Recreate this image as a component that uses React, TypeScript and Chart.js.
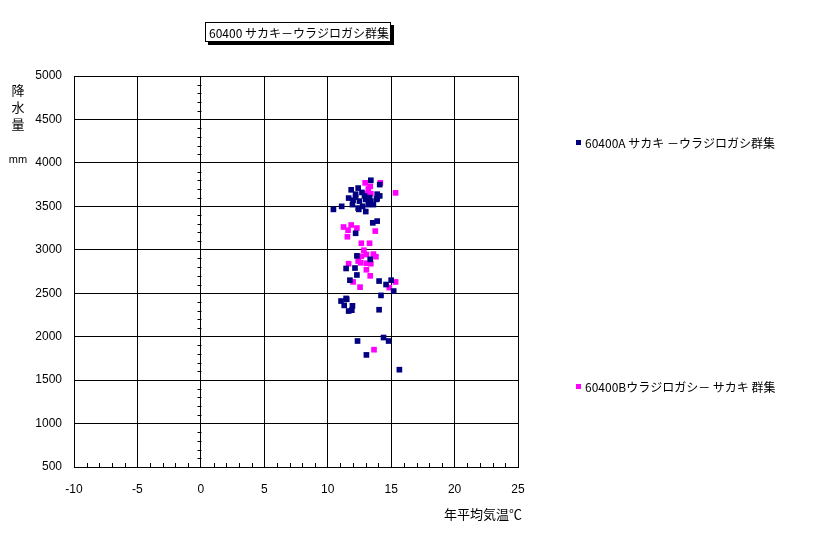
import React, { useEffect, useRef } from "react";
import { Chart, registerables } from "chart.js";

Chart.register(...registerables);

const chartTitle = "60400 サカキ－ウラジロガシ群集";
const seriesAName = "60400A サカキ －ウラジロガシ群集";
const seriesBName = "60400Bウラジロガシ－ サカキ 群集";
const xAxisTitle = "年平均気温℃";
const yAxisTitleChars = ["降", "水", "量"];
const yAxisUnit = "mm";

const xMin = -10;
const xMax = 25;
const xStep = 5;
const yMin = 500;
const yMax = 5000;
const yStep = 500;

const seriesATemp = [
  13.4, 14.1, 11.85, 12.4, 13.9, 13.9, 11.65, 12.2, 12.5, 13.0, 13.4, 11.95, 11.1, 12.4, 12.75, 13.0, 13.85, 13.6,
  10.45, 12.45, 12.2, 12.9, 13.3, 12.7, 14.1, 12.0, 13.2,
  13.55, 13.9, 12.2, 12.3, 13.35, 11.45, 12.15, 12.3, 11.75, 14.05, 14.6, 15.0, 15.2, 14.2, 11.45, 11.05, 11.5, 11.3,
  11.95, 11.65, 11.9, 14.05,
  14.4, 14.8, 12.35, 13.05, 15.65,
];
const seriesARain = [
  3800, 3750, 3690, 3710, 3640, 3590, 3595, 3605, 3560, 3580, 3560, 3520, 3500, 3480, 3500, 3440, 3580, 3520,
  3465, 3465, 3640, 3620, 3600, 3660, 3620, 3570, 3520,
  3310, 3330, 3190, 2930, 2890, 2785, 2790, 2710, 2650, 2640, 2600, 2650, 2525, 2475, 2440, 2410, 2430, 2360,
  2355, 2295, 2305, 2310,
  1990, 1950, 1950, 1790, 1620,
];

const seriesBTemp = [
  12.95, 13.35, 14.15, 13.0, 13.4, 15.35, 11.25, 11.85, 11.6, 12.3, 11.55, 13.75, 12.65, 13.3, 12.85, 13.05, 12.65,
  13.6, 13.8, 12.4, 11.65, 13.05, 13.4, 13.05, 13.35, 12.0, 12.55, 15.35, 14.85, 13.65, 13.2, 12.6,
];
const seriesBRain = [
  3770, 3730, 3770, 3645, 3645, 3655, 3262, 3285, 3225, 3250, 3150, 3215, 3075, 3075, 2995, 2945, 2925,
  2950, 2920, 2870, 2840, 2845, 2840, 2770, 2700, 2630, 2570, 2630, 2565, 1850, 3700, 2850,
];

const colorA = "#000080";
const colorB = "#FF00FF";

const tickFont = "'Liberation Sans', 'DejaVu Sans', sans-serif";
const jpFont = "'Noto Sans CJK JP', 'Noto Sans', sans-serif";

const decorations = {
  id: "decorations",
  afterDraw(chart: any) {
    const ctx = chart.ctx as CanvasRenderingContext2D;
    const xs = chart.scales.x;
    const ys = chart.scales.y;
    const area = chart.chartArea;
    ctx.save();
    ctx.strokeStyle = "#000";
    ctx.lineWidth = 1;
    ctx.beginPath();
    for (let v = xMin + 1; v < xMax; v += 1) {
      if (v % xStep === 0) continue;
      const px = Math.round(xs.getPixelForValue(v)) + 0.5;
      ctx.moveTo(px, area.bottom);
      ctx.lineTo(px, area.bottom - 4);
    }
    const x0 = Math.round(xs.getPixelForValue(0)) + 0.5;
    for (let v = yMin + 100; v < yMax; v += 100) {
      if (v % yStep === 0) continue;
      const py = Math.round(ys.getPixelForValue(v)) + 0.5;
      ctx.moveTo(x0 - 4, py);
      ctx.lineTo(x0, py);
    }
    ctx.stroke();

    const bx = 205, by = 22, bw = 186, bh = 20;
    ctx.fillStyle = "#000";
    ctx.fillRect(bx + 3, by + 3, bw, bh);
    ctx.fillStyle = "#fff";
    ctx.fillRect(bx, by, bw, bh);
    ctx.strokeStyle = "#000";
    ctx.lineWidth = 1;
    ctx.strokeRect(bx + 0.5, by + 0.5, bw - 1, bh - 1);
    ctx.fillStyle = "#000";
    ctx.font = `12px ${jpFont}`;
    ctx.textBaseline = "middle";
    ctx.textAlign = "left";
    ctx.fillText(chartTitle, bx + 4, by + bh / 2 + 1);

    ctx.font = `13px ${jpFont}`;
    ctx.textAlign = "center";
    yAxisTitleChars.forEach((c, i) => {
      ctx.fillText(c, 18, 90 + i * 17);
    });
    ctx.font = `11px ${tickFont}`;
    ctx.fillText(yAxisUnit, 18, 160);

    ctx.font = `13px ${jpFont}`;
    ctx.textAlign = "left";
    ctx.fillText(xAxisTitle, 444, 514);

    ctx.font = `12px ${jpFont}`;
    ctx.fillStyle = colorA;
    ctx.fillRect(576, 140, 5, 5);
    ctx.fillStyle = "#000";
    ctx.fillText(seriesAName, 585, 143);
    ctx.fillStyle = colorB;
    ctx.fillRect(576, 384, 5, 5);
    ctx.fillStyle = "#000";
    ctx.fillText(seriesBName, 585, 387);
    ctx.restore();
  },
};

export default function App() {
  const ref = useRef<HTMLCanvasElement | null>(null);
  useEffect(() => {
    document.body.style.margin = "0";
    const canvas = ref.current;
    if (!canvas) return;
    const toPts = (xa: number[], ya: number[]) => xa.map((x, i) => ({ x, y: ya[i] }));
    const chart = new Chart(canvas, {
      type: "scatter",
      data: {
        datasets: [
          {
            label: seriesAName,
            data: toPts(seriesATemp, seriesARain),
            backgroundColor: colorA,
            borderWidth: 0,
            pointStyle: "rect",
            pointRadius: 4,
          },
          {
            label: seriesBName,
            data: toPts(seriesBTemp, seriesBRain),
            backgroundColor: colorB,
            borderWidth: 0,
            pointStyle: "rect",
            pointRadius: 4,
          },
        ],
      },
      options: {
        animation: false,
        responsive: false,
        devicePixelRatio: 1,
        layout: { padding: { top: 76, right: 298, left: 0, bottom: 0 } },
        plugins: {
          legend: { display: false },
          tooltip: { enabled: false },
          title: { display: false },
        },
        scales: {
          x: {
            type: "linear",
            min: xMin,
            max: xMax,
            afterFit: (s: any) => {
              s.height = 534 - 467;
            },
            ticks: {
              stepSize: xStep,
              color: "#000",
              font: { family: tickFont, size: 12 },
              padding: 15,
              callback: (v: any) => String(v),
            },
            grid: { color: "#000", lineWidth: 1, drawTicks: false },
            border: { color: "#000", width: 1 },
          },
          y: {
            type: "linear",
            min: yMin,
            max: yMax,
            afterFit: (s: any) => {
              s.width = 74;
            },
            ticks: {
              stepSize: yStep,
              color: "#000",
              font: { family: tickFont, size: 12 },
              padding: 12,
              callback: (v: any) => String(v),
            },
            grid: { color: "#000", lineWidth: 1, drawTicks: false },
            border: { color: "#000", width: 1 },
          },
        },
      },
      plugins: [decorations],
    });
    return () => chart.destroy();
  }, []);
  return (
    <div style={{ position: "relative", width: 816, height: 534 }}>
      <canvas ref={ref} width={816} height={534} style={{ display: "block", width: 816, height: 534 }} />
    </div>
  );
}
